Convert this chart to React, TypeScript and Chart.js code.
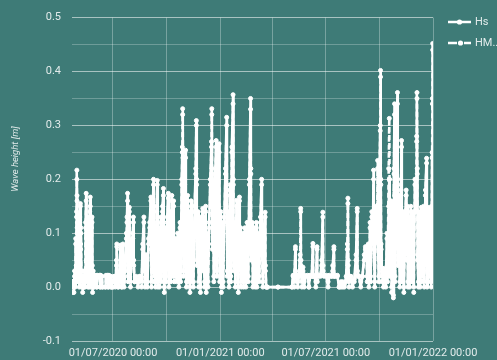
import React, { useEffect, useRef } from "react";
import { Chart, registerables } from "chart.js";

Chart.register(...registerables);

// ---- Data ----
// Spring 2020
const timesA = [
  "2020-04-22","2020-04-23","2020-04-24","2020-04-25","2020-04-26","2020-04-27","2020-04-28","2020-04-29T00",
  "2020-04-29T12","2020-04-30T00","2020-04-30T06","2020-04-30T12","2020-04-30T18","2020-05-01","2020-05-02","2020-05-03",
  "2020-05-04","2020-05-05","2020-05-06T00","2020-05-06T12","2020-05-07","2020-05-08","2020-05-09","2020-05-10",
  "2020-05-11","2020-05-12","2020-05-13","2020-05-14","2020-05-15","2020-05-16T00","2020-05-16T12","2020-05-17",
  "2020-05-18","2020-05-19","2020-05-20","2020-05-21","2020-05-22","2020-05-23T00","2020-05-23T12","2020-05-24",
  "2020-05-25","2020-05-26T00","2020-05-26T12","2020-05-27","2020-05-28","2020-05-29","2020-05-30",
];
const hsA = [
  0.01,0.0,0.01,-0.01,0.03,0.0,0.09,0.04,
  0.14,0.217,0.17,0.1,0.03,0.12,0.02,0.1,
  0.0,0.13,0.155,0.08,0.11,0.01,0.02,0.0,
  0.02,0.0,0.03,0.01,0.12,0.174,0.1,0.02,
  0.13,0.01,0.11,0.0,0.14,0.167,0.09,0.01,
  0.12,0.13,0.04,0.0,0.03,0.0,0.02,
];
const hmA = [
  0.01,-0.01,0.01,0.0,0.02,0.01,0.08,0.03,
  0.13,0.2,0.16,0.11,0.02,0.11,0.01,0.09,
  0.01,0.12,0.15,0.07,0.1,0.0,0.03,-0.01,
  0.02,0.0,0.02,0.0,0.11,0.16,0.09,0.01,
  0.12,0.0,0.1,0.01,0.13,0.15,0.08,0.0,
  0.11,0.12,0.03,-0.01,0.02,0.0,0.02,
];

// June 2020
const timesB = [
  "2020-05-31","2020-06-02","2020-06-03","2020-06-04","2020-06-08","2020-06-09","2020-06-10","2020-06-12",
  "2020-06-13","2020-06-18","2020-06-19","2020-06-22","2020-06-23","2020-06-24","2020-06-27","2020-06-28",
  "2020-06-30",
];
const hsB = [0.022,0.02,0.0,0.022,0.02,0.0,0.022,0.02, 0.0,0.0,0.022,0.02,0.0,0.022,0.02,0.0, 0.01];
const hmB = [0.02,0.022,0.0,0.02,0.022,0.0,0.02,0.02, 0.0,0.0,0.02,0.022,0.0,0.02,0.02,0.0, 0.0];

// Summer 2020
const timesC = [
  "2020-07-01","2020-07-03","2020-07-05","2020-07-07T00","2020-07-07T12","2020-07-08","2020-07-10","2020-07-12",
  "2020-07-14T00","2020-07-14T12","2020-07-16","2020-07-18T00","2020-07-18T12","2020-07-20","2020-07-22","2020-07-24",
  "2020-07-25","2020-07-26T00","2020-07-26T12","2020-07-27","2020-07-28","2020-07-29T00","2020-07-29T12","2020-07-31",
  "2020-08-02","2020-08-04","2020-08-05T00","2020-08-05T12","2020-08-07","2020-08-10","2020-08-13","2020-08-16",
  "2020-08-19","2020-08-21","2020-08-23T00","2020-08-23T12","2020-08-25","2020-08-27","2020-08-29","2020-08-31",
  "2020-09-02","2020-09-04T00","2020-09-04T12","2020-09-05","2020-09-07","2020-09-08T12","2020-09-09","2020-09-10",
  "2020-09-11","2020-09-12","2020-09-14","2020-09-15T00","2020-09-15T12","2020-09-16","2020-09-18","2020-09-19",
  "2020-09-21","2020-09-22","2020-09-24","2020-09-25T12","2020-09-26","2020-09-27","2020-09-29","2020-09-30",
];
const hsC = [
  0.01,0.02,0.0,0.05,0.08,0.02,0.0,0.02,
  0.078,0.03,0.0,0.08,0.02,0.01,0.04,0.1,
  0.13,0.174,0.09,0.02,0.12,0.148,0.06,0.01,
  0.08,0.1,0.13,0.05,0.01,0.02,0.0,0.02,
  0.01,0.08,0.13,0.04,0.01,0.06,0.0,0.09,
  0.12,0.167,0.08,0.01,0.13,0.2,0.12,0.02,
  0.1,0.01,0.15,0.198,0.1,0.0,0.11,0.01,
  0.13,0.02,0.15,0.183,0.06,0.0,0.11,0.02,
];
const hmC = [
  0.0,0.02,0.01,0.04,0.075,0.02,0.0,0.01,
  0.07,0.02,0.0,0.078,0.02,0.0,0.03,0.09,
  0.12,0.16,0.08,0.01,0.11,0.14,0.05,0.0,
  0.07,0.09,0.12,0.04,0.01,0.01,0.01,0.02,
  0.0,0.07,0.12,0.03,0.0,0.05,0.01,0.08,
  0.11,0.16,0.07,0.0,0.12,0.19,0.11,0.01,
  0.11,0.0,0.14,0.19,0.09,0.01,0.1,0.0,
  0.12,0.01,0.14,0.17,0.05,-0.01,0.1,0.01,
];

// Winter 2020-2021
const timesD = [
  "2020-10-02","2020-10-04T00","2020-10-04T12","2020-10-05","2020-10-07","2020-10-08","2020-10-10","2020-10-11",
  "2020-10-13","2020-10-14","2020-10-16","2020-10-18","2020-10-20","2020-10-22","2020-10-24","2020-10-25",
  "2020-10-27","2020-10-28T00","2020-10-28T12","2020-10-29T00","2020-10-29T12","2020-10-30","2020-11-01","2020-11-02T12",
  "2020-11-03","2020-11-04","2020-11-06","2020-11-07","2020-11-09","2020-11-10","2020-11-12","2020-11-13",
  "2020-11-15","2020-11-16","2020-11-18","2020-11-20","2020-11-21T00","2020-11-21T12","2020-11-22","2020-11-24",
  "2020-11-25","2020-11-27","2020-11-28","2020-11-30","2020-12-02T00","2020-12-02T12","2020-12-04","2020-12-05",
  "2020-12-07","2020-12-08","2020-12-10","2020-12-11","2020-12-13","2020-12-15","2020-12-17T00","2020-12-17T12",
  "2020-12-18T00","2020-12-18T12","2020-12-20","2020-12-21","2020-12-23","2020-12-25T00","2020-12-25T12","2020-12-26",
  "2020-12-28","2020-12-30T00","2020-12-30T12","2020-12-31","2021-01-02","2021-01-03","2021-01-05","2021-01-06",
  "2021-01-08","2021-01-10","2021-01-12T00","2021-01-12T12","2021-01-13","2021-01-15","2021-01-16","2021-01-18",
  "2021-01-19","2021-01-21","2021-01-23T00","2021-01-23T12","2021-01-24","2021-01-26","2021-01-27","2021-01-29T00",
  "2021-01-29T12","2021-01-31","2021-02-01","2021-02-03T00","2021-02-03T12","2021-02-05","2021-02-06","2021-02-08",
  "2021-02-10","2021-02-12","2021-02-14","2021-02-16","2021-02-18","2021-02-20","2021-02-22T00","2021-02-22T12",
  "2021-02-23","2021-02-25","2021-02-26","2021-02-28","2021-03-02","2021-03-04","2021-03-05","2021-03-07",
  "2021-03-09","2021-03-11","2021-03-13T00","2021-03-13T12","2021-03-15","2021-03-17","2021-03-19T00","2021-03-19T12",
  "2021-03-21",
];
const hsD = [
  0.13,0.174,0.09,0.01,0.14,0.02,0.17,0.03,
  0.16,0.02,0.09,0.01,0.1,0.01,0.12,0.02,
  0.2,0.26,0.331,0.25,0.15,0.03,0.2,0.254,
  0.1,0.01,0.17,0.02,0.14,0.0,0.16,0.02,
  0.12,0.01,0.15,0.22,0.309,0.2,0.05,0.14,
  0.01,0.13,0.0,0.12,0.146,0.04,0.13,0.01,
  0.15,0.0,0.1,0.01,0.12,0.2,0.27,0.331,
  0.22,0.08,0.15,0.02,0.2,0.272,0.15,0.03,
  0.18,0.266,0.12,0.02,0.14,0.0,0.12,0.01,
  0.13,0.22,0.315,0.18,0.03,0.14,0.01,0.19,
  0.02,0.26,0.357,0.2,0.04,0.12,0.01,0.161,
  0.05,0.1,0.0,0.167,0.06,0.11,0.01,0.1,
  0.0,0.11,0.01,0.12,0.02,0.2,0.35,0.22,
  0.06,0.12,0.01,0.11,0.0,0.12,0.01,0.1,
  0.02,0.13,0.2,0.09,0.01,0.1,0.139,0.04,
  0.0,
];
const hmD = [
  0.12,0.165,0.08,0.0,0.13,0.01,0.16,0.02,
  0.15,0.01,0.08,0.02,0.09,0.0,0.11,0.01,
  0.19,0.25,0.32,0.24,0.14,0.02,0.19,0.24,
  0.09,0.0,0.16,0.01,0.13,-0.01,0.15,0.01,
  0.11,0.0,0.14,0.21,0.3,0.19,0.04,0.13,
  0.0,0.12,-0.01,0.11,0.14,0.03,0.12,0.0,
  0.14,-0.01,0.09,0.0,0.11,0.19,0.26,0.32,
  0.21,0.07,0.14,0.01,0.19,0.26,0.14,0.02,
  0.17,0.25,0.11,0.01,0.13,-0.01,0.11,0.0,
  0.12,0.21,0.3,0.17,0.02,0.13,0.0,0.18,
  0.01,0.25,0.34,0.19,0.03,0.11,0.0,0.15,
  0.04,0.09,-0.01,0.16,0.05,0.1,0.0,0.09,
  0.01,0.1,0.0,0.11,0.01,0.19,0.33,0.21,
  0.05,0.11,0.0,0.1,0.01,0.11,0.0,0.09,
  0.01,0.12,0.19,0.08,0.0,0.09,0.13,0.03,
  0.0,
];

// Calm spring 2021
const timesE = ["2021-03-23","2021-04-10","2021-05-04"];
const hsE = [0.0,0.0,0.0];
const hmE = [0.0,0.0,0.0];

// Summer 2021
const timesF = [
  "2021-05-06","2021-05-08","2021-05-10T00","2021-05-10T12","2021-05-12","2021-05-14","2021-05-16","2021-05-18",
  "2021-05-19T00","2021-05-19T12","2021-05-21","2021-05-23","2021-05-25","2021-05-27","2021-05-31","2021-06-02",
  "2021-06-04","2021-06-07","2021-06-09T00","2021-06-09T12","2021-06-12","2021-06-14","2021-06-16T00","2021-06-16T12",
  "2021-06-19","2021-06-22","2021-06-24","2021-06-26T00","2021-06-26T12","2021-06-28","2021-07-02","2021-07-05",
  "2021-07-07","2021-07-11","2021-07-13","2021-07-15T00","2021-07-15T12","2021-07-18","2021-07-21","2021-07-24",
  "2021-07-27","2021-07-30","2021-08-02","2021-08-05","2021-08-07","2021-08-08T00","2021-08-08T12","2021-08-10",
  "2021-08-13","2021-08-16","2021-08-19","2021-08-22","2021-08-24T00","2021-08-24T12","2021-08-27","2021-08-30",
  "2021-09-02","2021-09-05","2021-09-07","2021-09-09","2021-09-10",
];
const hsF = [
  0.022,0.01,0.075,0.03,0.022,0.0,0.022,0.06,
  0.146,0.05,0.01,0.037,0.0,0.022,0.02,0.0,
  0.022,0.02,0.081,0.02,0.022,0.0,0.075,0.02,
  0.022,0.02,0.05,0.139,0.04,0.022,0.02,0.0,
  0.022,0.02,0.04,0.075,0.02,0.022,0.02,0.0,
  0.01,0.0,0.005,0.02,0.08,0.165,0.05,0.01,
  0.02,0.0,0.015,0.06,0.146,0.03,0.02,0.0,
  0.02,0.06,0.075,0.06,0.02,
];
const hmF = [
  0.02,0.0,0.07,0.02,0.02,0.01,0.02,0.05,
  0.14,0.04,0.0,0.03,0.01,0.02,0.022,0.0,
  0.02,0.02,0.075,0.02,0.02,0.01,0.07,0.01,
  0.02,0.022,0.04,0.13,0.03,0.02,0.022,0.01,
  0.02,0.02,0.03,0.07,0.02,0.02,0.022,0.0,
  0.0,0.01,0.0,0.01,0.07,0.155,0.04,0.0,
  0.02,0.01,0.01,0.05,0.14,0.02,0.02,0.01,
  0.02,0.05,0.07,0.075,0.01,
];

// Autumn / winter 2021
const timesG = [
  "2021-09-12","2021-09-13","2021-09-15","2021-09-16","2021-09-18","2021-09-20","2021-09-21T00","2021-09-21T12",
  "2021-09-23","2021-09-25","2021-09-27","2021-09-28T00","2021-09-28T12","2021-09-30","2021-10-01","2021-10-02T12",
  "2021-10-03T00","2021-10-03T12","2021-10-04","2021-10-05","2021-10-06","2021-10-08","2021-10-10","2021-10-12",
  "2021-10-14","2021-10-15","2021-10-17","2021-10-18T00","2021-10-18T12","2021-10-19","2021-10-21","2021-10-22",
  "2021-10-24","2021-10-25","2021-10-26","2021-10-27T00","2021-10-27T12","2021-10-28","2021-10-30","2021-11-01T00",
  "2021-11-01T12","2021-11-02","2021-11-04","2021-11-05","2021-11-07","2021-11-08T00","2021-11-08T12","2021-11-09",
  "2021-11-11","2021-11-12","2021-11-14","2021-11-16T00","2021-11-16T12","2021-11-18","2021-11-19","2021-11-21",
  "2021-11-22","2021-11-24","2021-11-26","2021-11-28","2021-11-29","2021-12-01","2021-12-03","2021-12-04T00",
  "2021-12-04T12","2021-12-05T00","2021-12-05T12","2021-12-07","2021-12-09","2021-12-10","2021-12-12","2021-12-14",
  "2021-12-16","2021-12-17","2021-12-19","2021-12-21T00","2021-12-21T12","2021-12-22","2021-12-23","2021-12-24",
  "2021-12-26T00","2021-12-26T12","2021-12-28","2021-12-29","2021-12-30T00","2021-12-30T12","2021-12-31T00","2021-12-31T12",
];
const hsG = [
  0.08,0.01,0.12,0.02,0.14,0.1,0.217,0.08,
  0.01,0.15,0.11,0.235,0.1,0.02,0.2,0.3,
  0.402,0.2,0.08,0.02,0.035,0.0,0.03,0.01,
  0.1,0.02,0.15,0.2,0.1,0.03,0.16,0.0,
  0.12,-0.02,0.22,0.34,0.18,0.02,0.25,0.361,
  0.2,0.05,0.17,0.01,0.18,0.272,0.12,0.02,
  0.14,-0.01,0.12,0.18,0.06,0.15,0.0,0.13,
  0.01,0.15,0.02,0.14,0.0,0.2,0.15,0.28,
  0.361,0.22,0.06,0.0,0.14,0.01,0.148,0.02,
  0.15,0.01,0.18,0.239,0.1,0.0,0.13,0.02,
  0.148,0.03,0.12,0.01,0.15,0.25,0.35,0.452,
];
const hmG = [
  0.07,0.0,0.11,0.01,0.13,0.09,0.2,0.07,
  0.0,0.14,0.1,0.22,0.09,0.01,0.19,0.29,
  0.39,0.19,0.07,0.01,0.03,0.01,0.035,0.0,
  0.09,0.01,0.22,0.313,0.2,0.02,0.15,-0.01,
  0.11,-0.015,0.21,0.32,0.17,0.01,0.24,0.34,
  0.19,0.04,0.16,0.0,0.17,0.26,0.11,0.01,
  0.13,0.0,0.11,0.17,0.05,0.14,0.01,0.12,
  0.0,0.14,0.01,0.13,-0.01,0.19,0.14,0.27,
  0.35,0.21,0.05,0.01,0.13,0.0,0.14,0.01,
  0.14,0.0,0.17,0.23,0.09,0.01,0.12,0.01,
  0.14,0.02,0.11,0.0,0.14,0.24,0.34,0.44,
];

const seriesLabels = ["Hs", "HM.."];
const xRange = ["2020-04-21T16", "2022-01-01T00"];
const xTickDates = ["2020-07-01","2020-10-01","2021-01-01","2021-04-01","2021-07-01","2021-10-01","2022-01-01"];
const yTicks = [-0.1,-0.05,0,0.05,0.1,0.15,0.2,0.25,0.3,0.35,0.4,0.45,0.5];
const yTitle = "Wave height [m]";

// ---- helpers ----
const toTime = (s: string): number => {
  const [d, h] = s.split("T");
  const [y, m, dd] = d.split("-").map(Number);
  return new Date(y, m - 1, dd, h ? Number(h) : 0).getTime();
};
const pad2 = (n: number) => String(n).padStart(2, "0");
const fmtDate = (v: number) => {
  const d = new Date(v);
  return `${pad2(d.getDate())}/${pad2(d.getMonth() + 1)}/${d.getFullYear()} ${pad2(d.getHours())}:${pad2(d.getMinutes())}`;
};

const times = [...timesA, ...timesB, ...timesC, ...timesD, ...timesE, ...timesF, ...timesG];
const hsValues = [...hsA, ...hsB, ...hsC, ...hsD, ...hsE, ...hsF, ...hsG];
const hmValues = [...hmA, ...hmB, ...hmC, ...hmD, ...hmE, ...hmF, ...hmG];

const BG = "#3e7b77";
const TEXT = "rgba(255,255,255,0.85)";
const FONT = "Roboto, 'Noto Sans', sans-serif";

const overlayPlugin = {
  id: "overlay",
  afterDraw(chart: any) {
    const ctx = chart.ctx;
    ctx.save();
    // y axis title
    ctx.save();
    ctx.translate(16, 159);
    ctx.rotate(-Math.PI / 2);
    ctx.font = `italic 9.5px ${FONT}`;
    ctx.fillStyle = TEXT;
    ctx.textAlign = "center";
    ctx.textBaseline = "middle";
    ctx.fillText(yTitle, 0, 0);
    ctx.restore();

    // legend
    const x0 = 448, x1 = 471, tx = 475;
    const rows = [22, 43];
    ctx.strokeStyle = "#fff";
    ctx.fillStyle = "#fff";
    ctx.lineWidth = 2.5;
    // Hs
    ctx.beginPath();
    ctx.moveTo(x0, rows[0]);
    ctx.lineTo(x1, rows[0]);
    ctx.stroke();
    ctx.beginPath();
    ctx.arc(459.5, rows[0], 2.6, 0, Math.PI * 2);
    ctx.fill();
    // HM
    ctx.beginPath();
    ctx.moveTo(x0, rows[1]);
    ctx.lineTo(457, rows[1]);
    ctx.moveTo(464, rows[1]);
    ctx.lineTo(x1, rows[1]);
    ctx.stroke();
    ctx.beginPath();
    ctx.arc(460.5, rows[1], 2.6, 0, Math.PI * 2);
    ctx.fill();

    ctx.font = `11px ${FONT}`;
    ctx.fillStyle = TEXT;
    ctx.textAlign = "left";
    ctx.textBaseline = "middle";
    ctx.fillText(seriesLabels[0], tx, rows[0]);
    ctx.fillText(seriesLabels[1], tx, rows[1]);
    ctx.restore();
  },
};

export default function App() {
  const ref = useRef<HTMLCanvasElement | null>(null);

  useEffect(() => {
    document.body.style.margin = "0";
    document.body.style.background = BG;
    if (!ref.current) return;
    const mk = (vals: number[]) => times.map((t, i) => ({ x: toTime(t), y: vals[i] }));
    const common = {
      borderColor: "#ffffff",
      backgroundColor: "#ffffff",
      borderWidth: 2.6,
      borderJoinStyle: "round" as const,
      pointRadius: 2,
      pointBorderWidth: 1,
      pointBorderColor: "#ffffff",
      pointBackgroundColor: "#ffffff",
      tension: 0,
    };
    const chart = new Chart(ref.current, {
      type: "line",
      data: {
        datasets: [
          { ...common, label: seriesLabels[0], data: mk(hsValues) },
          { ...common, label: seriesLabels[1], data: mk(hmValues), borderDash: [5, 3] },
        ],
      },
      options: {
        responsive: false,
        animation: false,
        layout: { padding: { top: 17, right: 64, left: 0, bottom: 0 } },
        plugins: {
          legend: { display: false },
          tooltip: { enabled: false },
        },
        scales: {
          x: {
            type: "linear",
            min: toTime(xRange[0]),
            max: toTime(xRange[1]),
            afterBuildTicks: (axis: any) => {
              axis.ticks = xTickDates.map((d) => ({ value: toTime(d) }));
            },
            afterFit: (s: any) => {
              s.height = 19;
            },
            ticks: {
              autoSkip: false,
              maxRotation: 0,
              padding: 6,
              color: TEXT,
              font: { family: FONT, size: 11 },
              callback: (v: any) => {
                const d = new Date(Number(v));
                return d.getMonth() === 0 || d.getMonth() === 6 ? fmtDate(Number(v)) : "";
              },
            },
            grid: { color: "rgba(255,255,255,0.3)", drawTicks: false, lineWidth: 1 },
            border: { display: false },
          },
          y: {
            min: -0.1,
            max: 0.5,
            afterBuildTicks: (axis: any) => {
              axis.ticks = yTicks.map((v) => ({ value: v }));
            },
            afterFit: (s: any) => {
              s.width = 72;
            },
            ticks: {
              padding: 11,
              color: TEXT,
              font: { family: FONT, size: 11 },
              callback: (v: any) => {
                const r = Math.round(Number(v) * 100);
                return r % 10 === 0 ? (r / 100).toFixed(1) : "";
              },
            },
            grid: {
              drawTicks: false,
              color: (c: any) => {
                const r = Math.round(Number(c.tick?.value) * 100);
                return r % 10 === 0 ? "rgba(255,255,255,0.55)" : "rgba(255,255,255,0.25)";
              },
            },
            border: { display: false },
          },
        },
      },
      plugins: [overlayPlugin],
    });
    return () => chart.destroy();
  }, []);

  return (
    <div style={{ width: 497, height: 360, background: BG }}>
      <canvas ref={ref} width={497} height={360} style={{ display: "block" }} />
    </div>
  );
}
